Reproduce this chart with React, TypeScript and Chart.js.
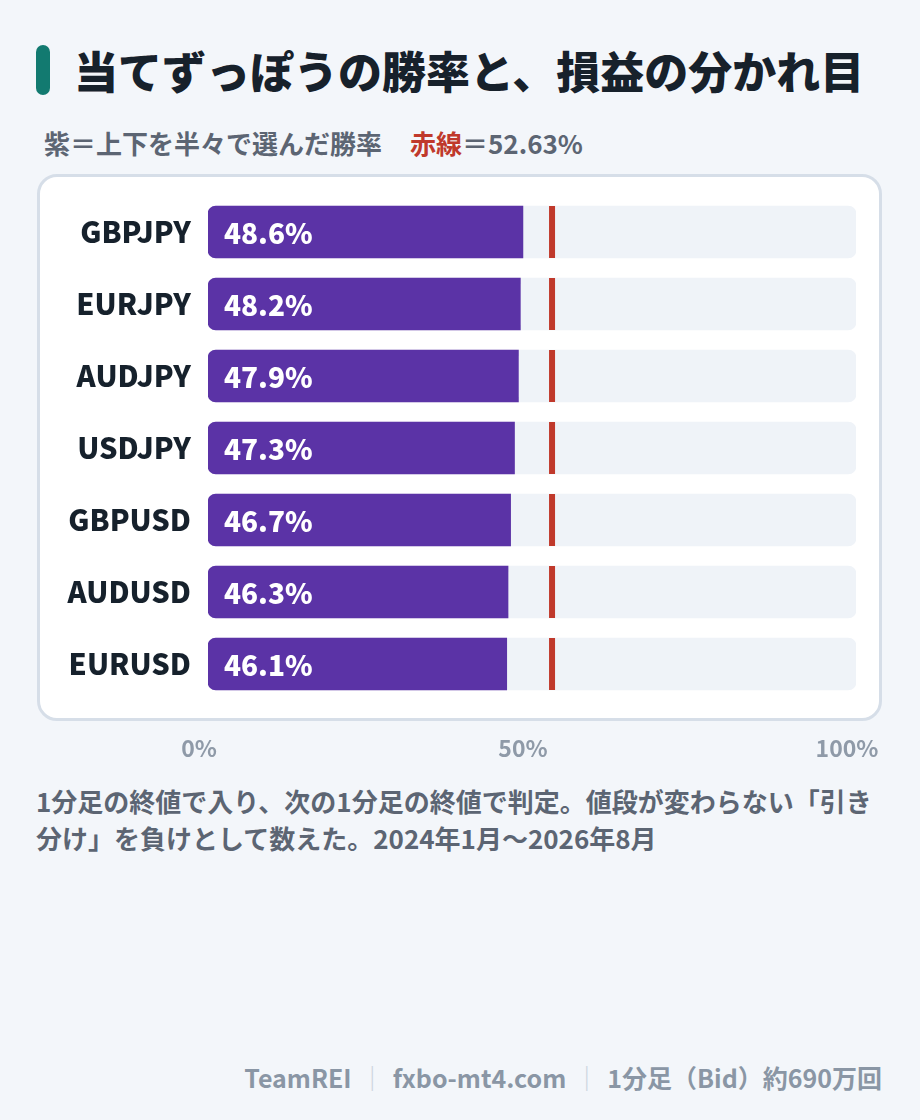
import React, { useEffect, useRef } from 'react';
import { Chart, registerables } from 'chart.js';

Chart.register(...registerables);

const pairs = ['GBPJPY', 'EURJPY', 'AUDJPY', 'USDJPY', 'GBPUSD', 'AUDUSD', 'EURUSD'];
const winRates = [48.6, 48.2, 47.9, 47.3, 46.7, 46.3, 46.1];
const breakEven = 52.63;
const scaleMax = 100;
const tickValues = [0, 50, 100];

const FONT = "'Noto Sans CJK JP', 'Noto Sans', sans-serif";

// 値ラベルと赤線(損益分岐)を描く
const overlayPlugin = {
  id: 'overlay',
  afterDatasetsDraw(chart: any) {
    const ctx = chart.ctx;
    const meta = chart.getDatasetMeta(1);
    const x = chart.scales.x.getPixelForValue(breakEven);
    ctx.save();
    meta.data.forEach((bar: any, i: number) => {
      const h = bar.height;
      ctx.fillStyle = '#c0392b';
      ctx.fillRect(x, bar.y - h / 2, 6, h);
      ctx.fillStyle = '#ffffff';
      ctx.font = `900 28px ${FONT}`;
      ctx.textAlign = 'left';
      ctx.textBaseline = 'middle';
      ctx.fillText(`${winRates[i].toFixed(1)}%`, bar.base + 16, bar.y + 1);
    });
    ctx.restore();
  },
};

export default function App() {
  const chartRef = useRef<HTMLCanvasElement>(null);
  const chartInstance = useRef<Chart | null>(null);

  useEffect(() => {
    if (!chartRef.current) return;
    if (chartInstance.current) chartInstance.current.destroy();
    const ctx = chartRef.current.getContext('2d');
    if (!ctx) return;

    chartInstance.current = new Chart(ctx, {
      type: 'bar',
      data: {
        labels: pairs,
        datasets: [
          {
            label: 'track',
            data: pairs.map(() => scaleMax),
            backgroundColor: '#eff3f8',
            borderRadius: 8,
            borderSkipped: false,
            barThickness: 52,
            grouped: false,
            order: 2,
          },
          {
            label: '勝率',
            data: winRates,
            backgroundColor: '#5b33a6',
            borderRadius: { topLeft: 8, bottomLeft: 8, topRight: 0, bottomRight: 0 },
            borderSkipped: false,
            barThickness: 52,
            grouped: false,
            order: 1,
          },
        ],
      },
      options: {
        indexAxis: 'y',
        responsive: true,
        maintainAspectRatio: false,
        animation: false,
        layout: { padding: { top: 22, right: 64, bottom: 14, left: 0 } },
        plugins: {
          legend: { display: false },
          tooltip: { enabled: false },
        },
        scales: {
          x: {
            min: 0,
            max: scaleMax,
            grid: { display: false, drawTicks: false },
            border: { display: false },
            afterBuildTicks: (scale: any) => {
              scale.ticks = tickValues.map((v) => ({ value: v }));
            },
            afterFit: (scale: any) => {
              scale.height = 60;
              scale.paddingLeft = 0;
              scale.paddingRight = 0;
            },
            ticks: {
              color: '#8f9aa8',
              padding: 34,
              labelOffset: -9,
              font: { family: FONT, size: 23, weight: 'bold' },
              callback: (v: any) => `${v}%`,
            },
          },
          y: {
            grid: { display: false, drawTicks: false },
            border: { display: false },
            afterFit: (scale: any) => {
              scale.width = 208;
              scale.paddingTop = 0;
              scale.paddingBottom = 0;
            },
            ticks: {
              color: '#16212c',
              padding: 17,
              font: { family: FONT, size: 29, weight: 900 },
            },
          },
        },
      },
      plugins: [overlayPlugin],
    } as any);

    return () => {
      if (chartInstance.current) {
        chartInstance.current.destroy();
        chartInstance.current = null;
      }
    };
  }, []);

  return (
    <div
      style={{
        position: 'absolute',
        left: 0,
        top: 0,
        width: 920,
        height: 1120,
        background: '#f3f6fa',
        fontFamily: FONT,
        overflow: 'hidden',
      }}
    >
      <div
        style={{
          position: 'absolute',
          left: 36,
          top: 45,
          width: 14,
          height: 50,
          borderRadius: 7,
          background: '#127a70',
        }}
      />
      <div
        style={{
          position: 'absolute',
          left: 74,
          top: 40,
          fontSize: 44,
          fontWeight: 900,
          lineHeight: '60px',
          color: '#17212b',
          whiteSpace: 'nowrap',
        }}
      >
        当てずっぽうの勝率と、損益の分かれ目
      </div>
      <div
        style={{
          position: 'absolute',
          left: 44,
          top: 126,
          fontSize: 26,
          fontWeight: 700,
          lineHeight: '34px',
          color: '#5c6573',
          whiteSpace: 'nowrap',
        }}
      >
        紫＝上下を半々で選んだ勝率
        <span style={{ marginLeft: 28, color: '#c0392b' }}>赤線</span>＝52.63%
      </div>
      <div
        style={{
          position: 'absolute',
          left: 37,
          top: 174,
          width: 845,
          height: 547,
          boxSizing: 'border-box',
          border: '3px solid #d6dee8',
          borderRadius: 20,
          background: '#ffffff',
        }}
      />
      <div style={{ position: 'absolute', left: 0, top: 174, width: 920, height: 600 }}>
        <canvas ref={chartRef} />
      </div>
      <div
        style={{
          position: 'absolute',
          left: 36,
          top: 782,
          width: 848,
          fontSize: 26,
          fontWeight: 700,
          lineHeight: '37px',
          color: '#5c6573',
        }}
      >
        1分足の終値で入り、次の1分足の終値で判定。値段が変わらない「引き分け」を負けとして数えた。2024年1月〜2026年8月
      </div>
      <div
        style={{
          position: 'absolute',
          right: 38,
          top: 1060,
          fontSize: 25,
          fontWeight: 700,
          lineHeight: '34px',
          color: '#8a96a5',
          whiteSpace: 'nowrap',
        }}
      >
        TeamREI<span style={{ color: '#cdd5df', margin: '0 8px' }}>｜</span>fxbo-mt4.com
        <span style={{ color: '#cdd5df', margin: '0 8px' }}>｜</span>1分足（Bid）約690万回
      </div>
    </div>
  );
}
